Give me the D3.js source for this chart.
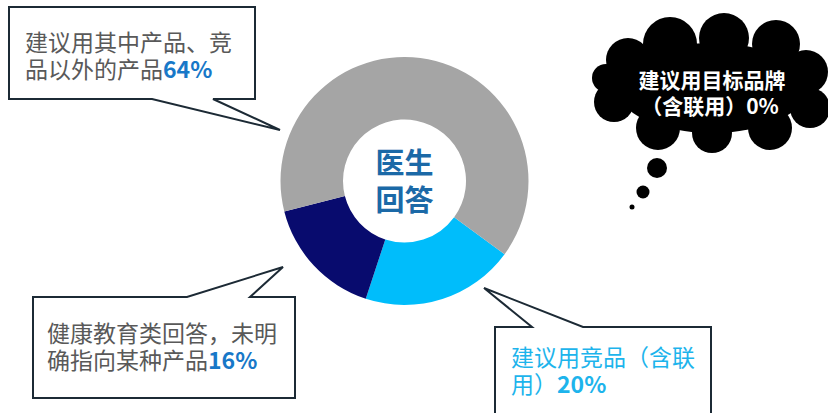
<!DOCTYPE html>
<html>
<head>
<meta charset="utf-8">
<script src="https://cdn.jsdelivr.net/npm/d3@7"></script>
<style>
  body { margin: 0; background: #fff; }
  svg { display: block; }
  text { font-family: "Noto Sans CJK SC", "Noto Sans", sans-serif; }
</style>
</head>
<body>
<script>
// slices, in drawing order (clockwise from the start angle)
var categories = ["建议用竞品（含联用）", "健康教育类回答，未明确指向某种产品", "建议用其中产品、竞品以外的产品", "建议用目标品牌（含联用）"];
var values = [20, 16, 64, 0];
var colors = ["#00BDFB", "#080B6E", "#A5A5A5", "#000000"];
var centerLabel = ["医生", "回答"];

// callout text, wrapped as in the original (same order as categories)
var calloutLines = [
  ["建议用竞品（含联", "用）"],
  ["健康教育类回答，未明", "确指向某种产品"],
  ["建议用其中产品、竞", "品以外的产品"],
  ["建议用目标品牌", "（含联用）"]
];

var W = 828, H = 413;
var cx = 404.5, cy = 181, outerR = 124, innerR = 61.5;

var svg = d3.select("body").append("svg").attr("width", W).attr("height", H);

// donut
var pie = d3.pie().sort(null).value(function(d){ return d; })
  .startAngle(126.2 * Math.PI / 180)
  .endAngle(126.2 * Math.PI / 180 + 2 * Math.PI);
var arc = d3.arc().innerRadius(innerR).outerRadius(outerR);

svg.append("g")
  .attr("transform", "translate(" + cx + "," + cy + ")")
  .selectAll("path")
  .data(pie(values))
  .enter().append("path")
    .attr("d", arc)
    .attr("fill", function(d,i){ return colors[i]; });

svg.append("text")
  .attr("text-anchor", "middle")
  .attr("font-size", 29)
  .attr("font-weight", "bold")
  .attr("fill", "#1B69A7")
  .selectAll("tspan")
  .data(centerLabel)
  .enter().append("tspan")
    .attr("x", cx)
    .attr("y", function(d,i){ return 174 + i * 37; })
    .text(function(d){ return d; });

// callout boxes with tails
var boxes = [
  { path: "M9,7 H255 V99 H213 L280,130 L152,99 H9 Z", tx: 25, ty: 51, color: "#595959", pctColor: "#1878C8", slice: 2 },
  { path: "M33,297 H187 L283,267 L250,297 H295 V398 H33 Z", tx: 47, ty: 342, color: "#595959", pctColor: "#1878C8", slice: 1 },
  { path: "M495,327 H532 L484,288 L583,327 H711 V420 H495 Z", tx: 511, ty: 366, color: "#1DB4EC", pctColor: "#1DB4EC", slice: 0 }
];

boxes.forEach(function(b){
  svg.append("path")
    .attr("d", b.path)
    .attr("fill", "#fff")
    .attr("stroke", "#1C2A35")
    .attr("stroke-width", 2)
    .attr("stroke-linejoin", "miter");

  var lines = calloutLines[b.slice];
  var t = svg.append("text").attr("font-size", 23).attr("fill", b.color);
  t.append("tspan").attr("x", b.tx).attr("y", b.ty).text(lines[0]);
  t.append("tspan").attr("x", b.tx).attr("y", b.ty + 27).text(lines[1]);
  t.append("tspan").attr("font-weight", "bold").attr("fill", b.pctColor).text(values[b.slice] + "%");
});

// thought cloud for the 0% slice
var puffs = [
  [628, 60, 22], [670, 44, 27], [724, 38, 25], [776, 44, 24], [806, 72, 22],
  [810, 108, 20], [770, 128, 22], [712, 133, 20], [658, 128, 22], [614, 102, 20], [606, 78, 14]
];
var cloud = svg.append("g");
cloud.selectAll("circle.puff")
  .data(puffs)
  .enter().append("circle")
    .attr("class", "puff")
    .attr("cx", function(d){ return d[0]; })
    .attr("cy", function(d){ return d[1]; })
    .attr("r", function(d){ return d[2]; })
    .attr("fill", "#000");
cloud.append("ellipse")
  .attr("cx", 712).attr("cy", 88).attr("rx", 95).attr("ry", 45)
  .attr("fill", "#000");

var bubbles = [[657, 168, 10], [643, 192, 6.5], [632, 207, 2.5]];
cloud.selectAll("circle.bubble")
  .data(bubbles)
  .enter().append("circle")
    .attr("class", "bubble")
    .attr("cx", function(d){ return d[0]; })
    .attr("cy", function(d){ return d[1]; })
    .attr("r", function(d){ return d[2]; })
    .attr("fill", "#000");

var ct = svg.append("text")
  .attr("text-anchor", "middle")
  .attr("font-size", 21)
  .attr("font-weight", "bold")
  .attr("fill", "#fff");
ct.append("tspan").attr("x", 712).attr("y", 88).text(calloutLines[3][0]);
ct.append("tspan").attr("x", 710).attr("y", 114).text(calloutLines[3][1] + values[3] + "%");
</script>
</body>
</html>
